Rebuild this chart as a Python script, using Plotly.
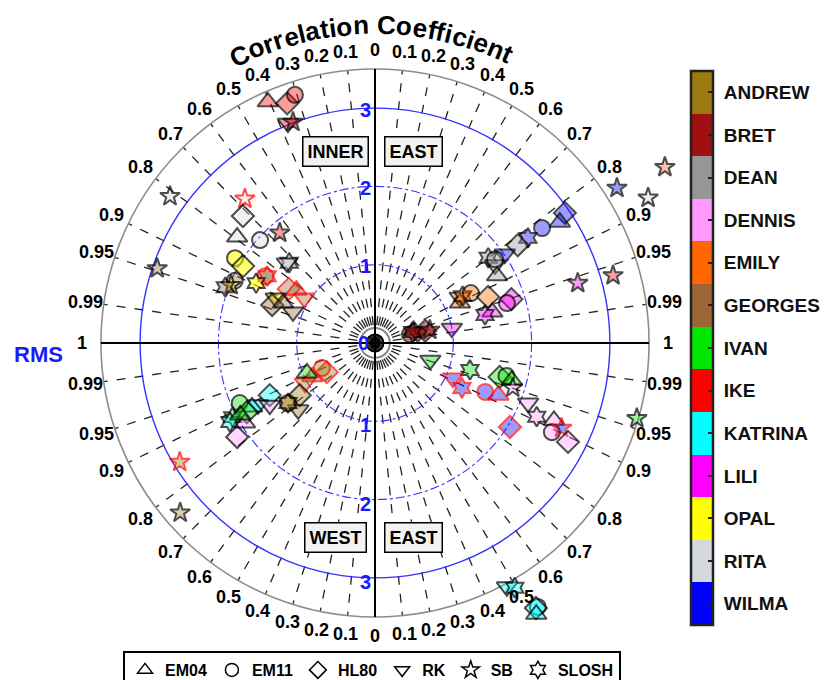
import numpy as np
import plotly.graph_objects as go

# ---------------- data ----------------
STORMS = ["ANDREW", "BRET", "DEAN", "DENNIS", "EMILY", "GEORGES", "IVAN",
          "IKE", "KATRINA", "LILI", "OPAL", "RITA", "WILMA"]
STORM_COLORS = ["#9c7a0e", "#a01010", "#969696", "#ff99ff", "#ff6600", "#9c6637",
                "#00e600", "#ff0000", "#00ffff", "#ff00ff", "#ffff00", "#d4d8dc", "#0000ff"]
MODELS = ["EM04", "EM11", "HL80", "RK", "SB", "SLOSH"]
CORR_TICKS = [0.1, 0.2, 0.3, 0.4, 0.5, 0.6, 0.7, 0.8, 0.9, 0.95, 0.99]
RMS_RINGS = [1, 2, 3]

# upper-left quadrant (INNER)
INNER_model = ["EM04", "HL80", "EM11", "RK", "SB", "SB", "SB", "HL80", "EM04", "EM11",
               "SB", "EM11", "HL80", "SLOSH", "RK", "EM11", "SLOSH", "SLOSH", "EM11", "SB",
               "SLOSH", "HL80", "EM04", "RK", "RK", "HL80", "EM04", "RK", "SB"]
INNER_storm = ["IKE", "IKE", "IKE", "IKE", "BRET", "RITA", "RITA", "RITA", "RITA", "RITA",
               "IKE", "OPAL", "OPAL", "DEAN", "RITA", "GEORGES", "GEORGES", "OPAL", "GEORGES", "OPAL",
               "GEORGES", "GEORGES", "GEORGES", "GEORGES", "OPAL", "GEORGES", "GEORGES", "GEORGES", "GEORGES"]
INNER_corr = [0.406, 0.344, 0.307, 0.368, 0.348, 0.813, 0.670, 0.721, 0.793, 0.745,
              0.654, 0.855, 0.864, 0.73, 0.74, 0.854, 0.85, 0.893, 0.914, 0.928,
              0.937, 0.847, 0.83, 0.844, 0.911, 0.938, 0.917, 0.935, 0.946]
INNER_rms = [3.37, 3.26, 3.33, 3.02, 3.01, 3.22, 2.48, 2.34, 2.22, 1.97,
             1.86, 2.09, 1.95, 1.50, 1.52, 1.64, 1.62, 1.70, 1.96, 1.98,
             2.04, 1.30, 1.21, 1.07, 1.39, 1.40, 1.28, 1.12, 2.94]
INNER_edge = ["k", "k", "k", "k", "k", "k", "r", "k", "k", "k",
              "k", "k", "k", "k", "k", "r", "r", "k", "k", "k",
              "k", "r", "r", "r", "k", "k", "k", "k", "k"]

# upper-right quadrant (EAST)
EASTN_model = ["SB", "SB", "SB", "SB", "SB", "HL80", "EM04", "EM11", "SLOSH", "HL80",
               "RK", "SLOSH", "RK", "EM04", "EM11", "RK", "EM04", "SLOSH", "EM11", "HL80",
               "HL80", "EM11", "EM04", "SLOSH", "RK", "EM11", "EM04", "RK", "HL80", "SB", "SLOSH"]
EASTN_storm = ["EMILY", "WILMA", "RITA", "IKE", "LILI", "WILMA", "WILMA", "WILMA", "WILMA", "DEAN",
               "WILMA", "DEAN", "DEAN", "DEAN", "DEAN", "EMILY", "EMILY", "EMILY", "EMILY", "EMILY",
               "LILI", "LILI", "LILI", "LILI", "LILI", "BRET", "BRET", "BRET", "BRET", "BRET", "BRET"]
EASTN_corr = [0.855, 0.842, 0.883, 0.962, 0.959, 0.825, 0.837, 0.824, 0.824, 0.825,
              0.825, 0.799, 0.838, 0.876, 0.82, 0.880, 0.905, 0.882, 0.887, 0.926,
              0.952, 0.957, 0.967, 0.969, 0.982, 0.97, 0.95, 0.974, 0.972, 0.973, 0.96]
EASTN_rms = [4.33, 3.67, 3.95, 3.16, 2.70, 2.94, 2.82, 2.59, 2.37, 2.21,
             2.01, 1.81, 1.83, 1.78, 1.87, 1.23, 1.20, 1.27, 1.38, 1.56,
             1.83, 1.76, 1.55, 1.45, 1.00, 0.46, 0.52, 0.56, 0.66, 0.72, 0.50]
EASTN_edge = ["k"] * 31

# lower-left quadrant (WEST)
WEST_model = ["HL80", "EM11", "EM04", "RK", "EM04", "HL80", "RK", "EM11", "SLOSH", "HL80",
              "RK", "RK", "EM11", "EM04", "HL80", "SLOSH", "SLOSH", "HL80", "EM04", "EM04",
              "SB", "SB"]
WEST_storm = ["ANDREW", "ANDREW", "ANDREW", "ANDREW", "IVAN", "ANDREW", "ANDREW", "ANDREW", "ANDREW", "KATRINA",
              "KATRINA", "DENNIS", "IVAN", "KATRINA", "IVAN", "IVAN", "KATRINA", "DENNIS", "DENNIS", "IVAN",
              "ANDREW", "ANDREW"]
WEST_corr = [0.856, 0.904, 0.880, 0.868, 0.915, 0.822, 0.754, 0.823, 0.823, 0.896,
             0.884, 0.861, 0.914, 0.887, 0.880, 0.887, 0.878, 0.826, 0.852, 0.882,
             0.854, 0.754]
WEST_rms = [0.72, 0.75, 0.91, 1.03, 0.95, 1.17, 1.30, 1.35, 1.35, 1.50,
            1.69, 1.56, 1.89, 1.77, 1.86, 2.05, 2.11, 2.13, 1.95, 1.95,
            2.92, 3.30]
WEST_edge = ["r", "r", "r", "r", "k", "k", "k", "k", "k", "k",
             "k", "k", "k", "k", "k", "k", "k", "k", "k", "k",
             "r", "k"]

# lower-right quadrant (EAST)
EASTS_model = ["RK", "SLOSH", "HL80", "EM11", "EM04", "SB", "RK", "SLOSH", "EM11", "EM04",
               "RK", "SLOSH", "EM04", "EM11", "SB", "HL80", "HL80", "SB", "RK", "SLOSH",
               "EM11", "HL80", "EM04"]
EASTS_storm = ["IVAN", "IVAN", "IVAN", "IVAN", "IVAN", "DENNIS", "WILMA", "WILMA", "WILMA", "WILMA",
               "DENNIS", "DENNIS", "DENNIS", "DENNIS", "WILMA", "DENNIS", "WILMA", "IVAN", "KATRINA", "KATRINA",
               "KATRINA", "KATRINA", "KATRINA"]
EASTS_corr = [0.955, 0.962, 0.965, 0.970, 0.965, 0.951, 0.912, 0.888, 0.914, 0.921,
              0.931, 0.910, 0.918, 0.893, 0.910, 0.890, 0.849, 0.961, 0.476, 0.496,
              0.525, 0.519, 0.511]
EASTS_rms = [0.74, 1.26, 1.65, 1.73, 1.81, 1.85, 1.09, 1.25, 1.54, 1.71,
             2.10, 2.27, 2.49, 2.53, 2.62, 2.77, 2.03, 3.48, 3.54, 3.60,
             3.96, 3.96, 4.03]
EASTS_edge = ["k", "k", "k", "k", "k", "k", "r", "r", "r", "r",
              "k", "k", "k", "k", "r", "k", "r", "k", "k", "k",
              "k", "k", "k"]

# ---------------- styling ----------------
FONT = "Liberation Sans, Arial, sans-serif"
BLUE = "#1a1aff"
SYMBOL = {"EM04": "triangle-up", "EM11": "circle", "HL80": "diamond",
          "RK": "triangle-down", "SB": "star", "SLOSH": "hexagram"}
SIZE = {"EM04": 18, "EM11": 16, "HL80": 17, "RK": 18, "SB": 15, "SLOSH": 15}
EDGE = {"k": "black", "r": "#ff0000"}
ALPHA = {"OPAL": 0.8, "BRET": 0.75}
COLOR_OF = dict(zip(STORMS, STORM_COLORS))


def fill(storm):
    h = COLOR_OF[storm].lstrip("#")
    r, g, b = int(h[0:2], 16), int(h[2:4], 16), int(h[4:6], 16)
    return f"rgba({r},{g},{b},{ALPHA.get(storm, 0.55)})"


def theta(quad, c):
    a = np.degrees(np.arccos(np.asarray(c, dtype=float)))
    return {"INNER": 180 - a, "EASTN": a, "WEST": 180 + a, "EASTS": 360 - a}[quad]


# layout geometry (page shows the figure with an 8px body margin)
PAGE_OFF = 8
W_FIG, H_FIG = 828, 680
PX_PER_UNIT = 78.3
CX, CY = 375 - PAGE_OFF, 343 - PAGE_OFF
X_RANGE = [-CX / PX_PER_UNIT, (W_FIG - CX) / PX_PER_UNIT]
Y_RANGE = [-(H_FIG - CY) / PX_PER_UNIT, CY / PX_PER_UNIT]
R_OUT = 3.5
R_LAB = 3.74
R_TITLE = 4.06

fig = go.Figure()
shapes = []
annotations = []

# grid: radial dashed lines
for quad in ["INNER", "EASTN", "WEST", "EASTS"]:
    for c in CORR_TICKS:
        t = np.radians(theta(quad, c))
        shapes.append(dict(type="line", xref="x", yref="y", x0=0, y0=0,
                           x1=R_OUT * np.cos(t), y1=R_OUT * np.sin(t),
                           line=dict(color="#222222", width=1.3, dash="dash"), layer="below"))

# RMS rings
for rr in RMS_RINGS:
    shapes.append(dict(type="circle", xref="x", yref="y", x0=-rr, y0=-rr, x1=rr, y1=rr,
                       line=dict(color="#3333ff", width=1.4 if rr == 3 else 1.1,
                                 dash="solid" if rr == 3 else "dashdot"), layer="below"))
# outer circle
shapes.append(dict(type="circle", xref="x", yref="y", x0=-R_OUT, y0=-R_OUT, x1=R_OUT, y1=R_OUT,
                   line=dict(color="#8c8c8c", width=1.6), layer="below"))
# small circles at the centre
for rr, col, w in [(0.05, "black", 2.5), (0.11, "black", 1.6), (0.19, "#888888", 2.0)]:
    shapes.append(dict(type="circle", xref="x", yref="y", x0=-rr, y0=-rr, x1=rr, y1=rr,
                       line=dict(color=col, width=w), layer="below"))
# axes lines
shapes.append(dict(type="line", xref="x", yref="y", x0=-R_OUT, y0=0, x1=R_OUT, y1=0,
                   line=dict(color="black", width=2), layer="below"))
shapes.append(dict(type="line", xref="x", yref="y", x0=0, y0=-R_OUT, x1=0, y1=R_OUT,
                   line=dict(color="black", width=2), layer="below"))

# data markers
QUAD_DATA = {
    "INNER": (INNER_model, INNER_storm, INNER_corr, INNER_rms, INNER_edge),
    "EASTN": (EASTN_model, EASTN_storm, EASTN_corr, EASTN_rms, EASTN_edge),
    "WEST": (WEST_model, WEST_storm, WEST_corr, WEST_rms, WEST_edge),
    "EASTS": (EASTS_model, EASTS_storm, EASTS_corr, EASTS_rms, EASTS_edge),
}
for quad, (models, storms, corr, rms, edges) in QUAD_DATA.items():
    t = np.radians(theta(quad, corr))
    r = np.asarray(rms, dtype=float)
    fig.add_trace(go.Scatter(
        x=r * np.cos(t), y=r * np.sin(t), mode="markers", showlegend=False, hoverinfo="skip",
        cliponaxis=False,
        marker=dict(symbol=[SYMBOL[m] for m in models], size=[SIZE[m] for m in models],
                    color=[fill(s) for s in storms],
                    line=dict(color=[EDGE[e] for e in edges], width=2))))

# legend entries
for m in MODELS:
    fig.add_trace(go.Scatter(x=[None], y=[None], mode="markers", name=m,
                             marker=dict(symbol=SYMBOL[m], size=13, color="white",
                                         line=dict(color="black", width=1.5))))

# colorbar
n = len(STORMS)
cs = []
for i, col in enumerate(STORM_COLORS[::-1]):
    cs.append([i / n, col])
    cs.append([(i + 1) / n, col])
fig.add_trace(go.Scatter(
    x=[None], y=[None], mode="markers", showlegend=False, hoverinfo="skip",
    marker=dict(color=[0], cmin=-0.5, cmax=n - 0.5, colorscale=cs, showscale=True,
                colorbar=dict(x=(691 - PAGE_OFF) / W_FIG, xanchor="left",
                              y=1 - (348 - PAGE_OFF) / H_FIG, yanchor="middle",
                              len=554, lenmode="pixels", thickness=22, thicknessmode="pixels",
                              outlinewidth=2.5, outlinecolor="#222222", xpad=0, ypad=0,
                              tickvals=list(range(n)), ticktext=["\u00a0" + s for s in STORMS[::-1]],
                              ticks="inside", ticklen=6, tickwidth=2, tickcolor="#222222",
                              tickfont=dict(family=FONT, size=19, color="#111111", weight="bold")))))

# correlation tick labels
def fmt(c):
    return f"{c:g}"

bold18 = dict(family=FONT, size=18, color="black", weight="bold")
for quad in ["INNER", "EASTN", "WEST", "EASTS"]:
    for c in CORR_TICKS:
        t = np.radians(theta(quad, c))
        annotations.append(dict(x=R_LAB * np.cos(t), y=R_LAB * np.sin(t), xref="x", yref="y",
                                text=fmt(c), showarrow=False, font=bold18,
                                xanchor="center", yanchor="middle"))
for lab, deg in [("0", 90), ("0", 270), ("1", 0), ("1", 180)]:
    t = np.radians(deg)
    annotations.append(dict(x=R_LAB * np.cos(t), y=R_LAB * np.sin(t), xref="x", yref="y",
                            text=lab, showarrow=False, font=bold18,
                            xanchor="center", yanchor="middle"))

# curved title
TITLE = "Correlation Coefficient"
CW = {"C": .722, "o": .611, "r": .389, "e": .556, "l": .278, "a": .556, "t": .333,
      "i": .278, "n": .611, " ": .278, "f": .333, "c": .556}
widths = np.array([CW[ch] for ch in TITLE])
centers = np.cumsum(widths) - widths / 2
frac = (centers - centers[0]) / (centers[-1] - centers[0])
angs = 115.3 - 50.0 * frac
for ch, a in zip(TITLE, angs):
    if ch == " ":
        continue
    t = np.radians(a)
    annotations.append(dict(x=R_TITLE * np.cos(t), y=R_TITLE * np.sin(t), xref="x", yref="y",
                            text=ch, showarrow=False, textangle=90 - a,
                            font=dict(family=FONT, size=26, color="black", weight="bold"),
                            xanchor="center", yanchor="middle"))

# RMS axis labels
blue20 = dict(family=FONT, size=20, color=BLUE, weight="bold")
annotations.append(dict(x=-0.15, y=0, xref="x", yref="y", text="0", showarrow=False,
                        font=blue20, xanchor="center", yanchor="middle"))
for rr in RMS_RINGS:
    annotations.append(dict(x=-0.12, y=rr - 0.02, xref="x", yref="y", text=str(rr), showarrow=False,
                            font=blue20, xanchor="center", yanchor="middle"))
    annotations.append(dict(x=-0.12, y=-rr - 0.05, xref="x", yref="y", text=str(rr), showarrow=False,
                            font=blue20, xanchor="center", yanchor="middle"))
annotations.append(dict(x=-4.30, y=-0.15, xref="x", yref="y", text="RMS", showarrow=False,
                        font=dict(family=FONT, size=22, color=BLUE, weight="bold"),
                        xanchor="center", yanchor="middle"))

# quadrant boxes
for lab, xx, yy in [("INNER", -0.50, 2.45), ("EAST", 0.49, 2.45),
                    ("WEST", -0.51, -2.48), ("EAST", 0.49, -2.48)]:
    annotations.append(dict(x=xx, y=yy, xref="x", yref="y", text=lab, showarrow=False,
                            font=dict(family=FONT, size=18, color="black", weight="bold"),
                            bgcolor="#f2f2f2", bordercolor="black", borderwidth=1.5, borderpad=4,
                            xanchor="center", yanchor="middle"))

fig.update_layout(
    width=W_FIG, height=H_FIG,
    margin=dict(l=0, r=0, t=0, b=0, autoexpand=False),
    paper_bgcolor="white", plot_bgcolor="white",
    xaxis=dict(range=X_RANGE, visible=False, fixedrange=True),
    yaxis=dict(range=Y_RANGE, visible=False, fixedrange=True),
    shapes=shapes, annotations=annotations,
    showlegend=True,
    legend=dict(orientation="h", x=(123 - PAGE_OFF) / W_FIG, xanchor="left",
                y=1 - (651 - PAGE_OFF) / H_FIG, yanchor="top",
                bordercolor="black", borderwidth=2, bgcolor="white",
                font=dict(family=FONT, size=16, color="black", weight="bold"),
                itemwidth=30, tracegroupgap=0),
)

fig.write_html("out.html")
